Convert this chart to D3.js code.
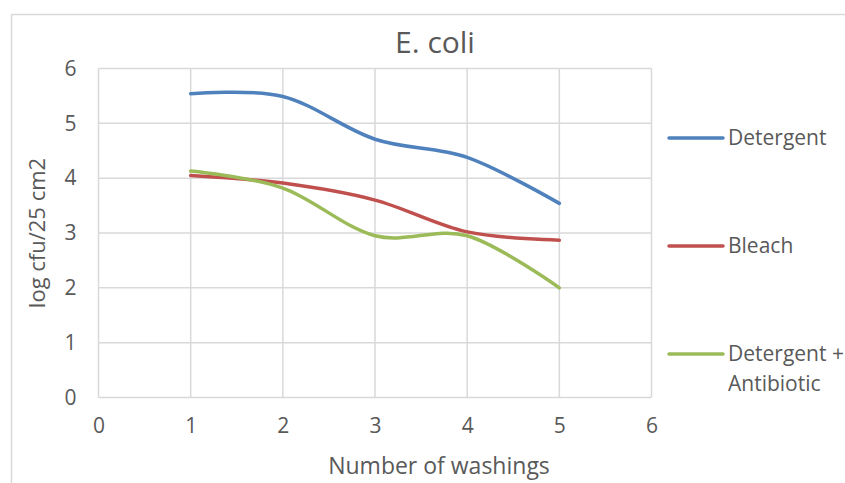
<!DOCTYPE html>
<html>
<head>
    <title>E. coli</title>
    <script src="https://d3js.org/d3.v7.min.js"></script>
    <style>
        body { margin: 0; background: #fff; }
        svg text { font-family: "Open Sans", sans-serif; fill: #595959; }
    </style>
</head>
<body>
<svg id="myChart" width="845" height="483"></svg>

<script>
    // datos
    const lavados = [1, 2, 3, 4, 5];
    const detergente = [5.54, 5.49, 4.71, 4.38, 3.54];
    const lejia = [4.05, 3.91, 3.60, 3.02, 2.87];
    const detergenteAntibiotico = [4.13, 3.82, 2.95, 2.95, 2.00];
    const ticksX = [0, 1, 2, 3, 4, 5, 6];
    const ticksY = [0, 1, 2, 3, 4, 5, 6];

    const series = [
        { nombre: ["Detergent"], valores: detergente, color: "#4f81bd" },
        { nombre: ["Bleach"], valores: lejia, color: "#c0504d" },
        { nombre: ["Detergent +", "Antibiotic"], valores: detergenteAntibiotico, color: "#9bbb59" }
    ];

    const svg = d3.select("#myChart");
    const margin = { top: 68.5, left: 98.5, right: 651.5, bottom: 397.5 };

    // borde exterior
    svg.append("rect")
        .attr("x", 11.5).attr("y", 14.5)
        .attr("width", 900).attr("height", 600)
        .attr("fill", "none")
        .attr("stroke", "#d9d9d9")
        .attr("stroke-width", 1.5);

    const x = d3.scaleLinear().domain([0, 6]).range([margin.left, margin.right]);
    const y = d3.scaleLinear().domain([0, 6]).range([margin.bottom, margin.top]);

    // rejilla
    svg.append("g")
        .selectAll("line")
        .data(ticksX)
        .join("line")
        .attr("x1", d => x(d)).attr("x2", d => x(d))
        .attr("y1", margin.top).attr("y2", margin.bottom)
        .attr("stroke", "#d9d9d9").attr("stroke-width", 1.5);

    svg.append("g")
        .selectAll("line")
        .data(ticksY)
        .join("line")
        .attr("y1", d => y(d)).attr("y2", d => y(d))
        .attr("x1", margin.left).attr("x2", margin.right)
        .attr("stroke", "#d9d9d9").attr("stroke-width", 1.5);

    // ejes
    const ejeX = svg.append("g")
        .attr("transform", `translate(0,${margin.bottom})`)
        .call(d3.axisBottom(x).tickValues(ticksX).tickFormat(d3.format("d")).tickSize(0).tickPadding(21));
    ejeX.select(".domain").remove();
    ejeX.selectAll("text").attr("font-size", 21).attr("font-family", null).attr("fill", "#595959");

    const ejeY = svg.append("g")
        .attr("transform", `translate(${margin.left},0)`)
        .call(d3.axisLeft(y).tickValues(ticksY).tickFormat(d3.format("d")).tickSize(0).tickPadding(22));
    ejeY.select(".domain").remove();
    ejeY.selectAll("text").attr("font-size", 21).attr("font-family", null).attr("fill", "#595959");

    // lineas suavizadas
    const line = d3.line()
        .x((d, i) => x(lavados[i]))
        .y(d => y(d))
        .curve(d3.curveCardinal.tension(0));

    series.forEach(s => {
        svg.append("path")
            .datum(s.valores)
            .attr("fill", "none")
            .attr("stroke", s.color)
            .attr("stroke-width", 3.5)
            .attr("stroke-linecap", "round")
            .attr("d", line);
    });

    // titulos
    svg.append("text")
        .attr("x", 435).attr("y", 42)
        .attr("text-anchor", "middle").attr("dy", "0.35em")
        .attr("font-size", 30)
        .text("E. coli");

    svg.append("text")
        .attr("x", 439).attr("y", 466)
        .attr("text-anchor", "middle").attr("dy", "0.35em")
        .attr("font-size", 23)
        .text("Number of washings");

    svg.append("text")
        .attr("transform", "translate(37,233) rotate(-90)")
        .attr("text-anchor", "middle").attr("dy", "0.35em")
        .attr("font-size", 22)
        .text("log cfu/25 cm2");

    // leyenda
    const leyendaY = [138, 246, 354];
    series.forEach((s, i) => {
        const g = svg.append("g").attr("transform", `translate(669,${leyendaY[i]})`);
        g.append("line")
            .attr("x1", 0).attr("x2", 54)
            .attr("stroke", s.color).attr("stroke-width", 3.5)
            .attr("stroke-linecap", "round");
        s.nombre.forEach((t, j) => {
            g.append("text")
                .attr("x", 59).attr("y", j * 30)
                .attr("dy", "0.35em")
                .attr("font-size", 21)
                .text(t);
        });
    });
</script>
</body>
</html>
